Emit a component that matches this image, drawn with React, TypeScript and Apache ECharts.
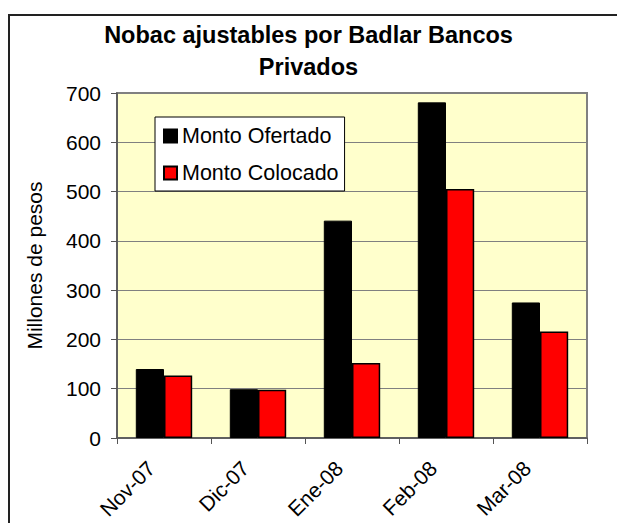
import React, { useEffect, useRef } from "react";
import * as echarts from "echarts";

const categories = ["Nov-07", "Dic-07", "Ene-08", "Feb-08", "Mar-08"];
const ofertado = [140, 99, 441, 681, 275];
const colocado = [127, 98, 152, 505, 216];
const seriesNames = ["Monto Ofertado", "Monto Colocado"];
const yTicks = { min: 0, max: 700, interval: 100 };
const titleText = "Nobac ajustables por Badlar Bancos\nPrivados";
const yAxisName = "Millones de pesos";

const FONT = "'Liberation Sans', Arial, sans-serif";

export default function App() {
  const ref = useRef<HTMLDivElement>(null);
  useEffect(() => {
    document.body.style.margin = "0";
    document.body.style.overflow = "hidden";
    if (!ref.current) return;
    const chart = echarts.init(ref.current, undefined, { renderer: "svg" });
    chart.setOption({
      animation: false,
      backgroundColor: "#ffffff",
      title: {
        text: titleText,
        left: "center",
        top: 19,
        padding: [0, 0, 0, 8],
        textStyle: {
          fontFamily: FONT,
          fontWeight: "bold",
          fontSize: 23.5,
          lineHeight: 32,
          color: "#000",
        },
      },
      graphic: [
        {
          type: "rect",
          shape: { x: 9, y: 15, width: 800, height: 800 },
          style: { fill: "none", stroke: "#222", lineWidth: 2 },
          silent: true,
          z: 100,
        },
      ],
      legend: {
        orient: "vertical",
        left: 155,
        top: 117,
        backgroundColor: "#ffffff",
        borderColor: "#000",
        borderWidth: 1,
        padding: [8, 6, 7, 8],
        itemWidth: 13,
        itemHeight: 13,
        itemGap: 15,
        icon: "rect",
        textStyle: { fontFamily: FONT, fontSize: 21.5, color: "#000" },
        data: seriesNames,
      },
      grid: {
        left: 117,
        top: 93,
        width: 470,
        height: 345,
        show: true,
        backgroundColor: "#FFFFCC",
        borderColor: "#808080",
        borderWidth: 2,
      },
      xAxis: {
        type: "category",
        data: categories,
        axisLine: { lineStyle: { color: "#555", width: 1.5 } },
        axisTick: { show: true, length: 6, lineStyle: { color: "#555" } },
        axisLabel: {
          rotate: 45,
          margin: 14,
          padding: [0, 18, 0, 0],
          fontFamily: FONT,
          fontSize: 21,
          color: "#000",
        },
      },
      yAxis: {
        type: "value",
        min: yTicks.min,
        max: yTicks.max,
        interval: yTicks.interval,
        name: yAxisName,
        nameLocation: "middle",
        nameGap: 72,
        nameTextStyle: { fontFamily: FONT, fontSize: 21, color: "#000" },
        axisLine: { show: true, lineStyle: { color: "#555", width: 1.5 } },
        axisTick: { show: true, length: 6, lineStyle: { color: "#555" } },
        axisLabel: {
          margin: 16,
          fontFamily: FONT,
          fontSize: 21,
          color: "#000",
        },
        splitLine: { show: true, lineStyle: { color: "#808080", width: 1 } },
      },
      series: [
        {
          name: seriesNames[0],
          type: "bar",
          data: ofertado,
          barGap: "0%",
          barCategoryGap: "40%",
          itemStyle: { color: "#000000", borderColor: "#000", borderWidth: 1 },
        },
        {
          name: seriesNames[1],
          type: "bar",
          data: colocado,
          itemStyle: { color: "#FF0000", borderColor: "#000", borderWidth: 1.5 },
        },
      ],
    });
    return () => chart.dispose();
  }, []);
  return <div ref={ref} style={{ width: 617, height: 523 }} />;
}
